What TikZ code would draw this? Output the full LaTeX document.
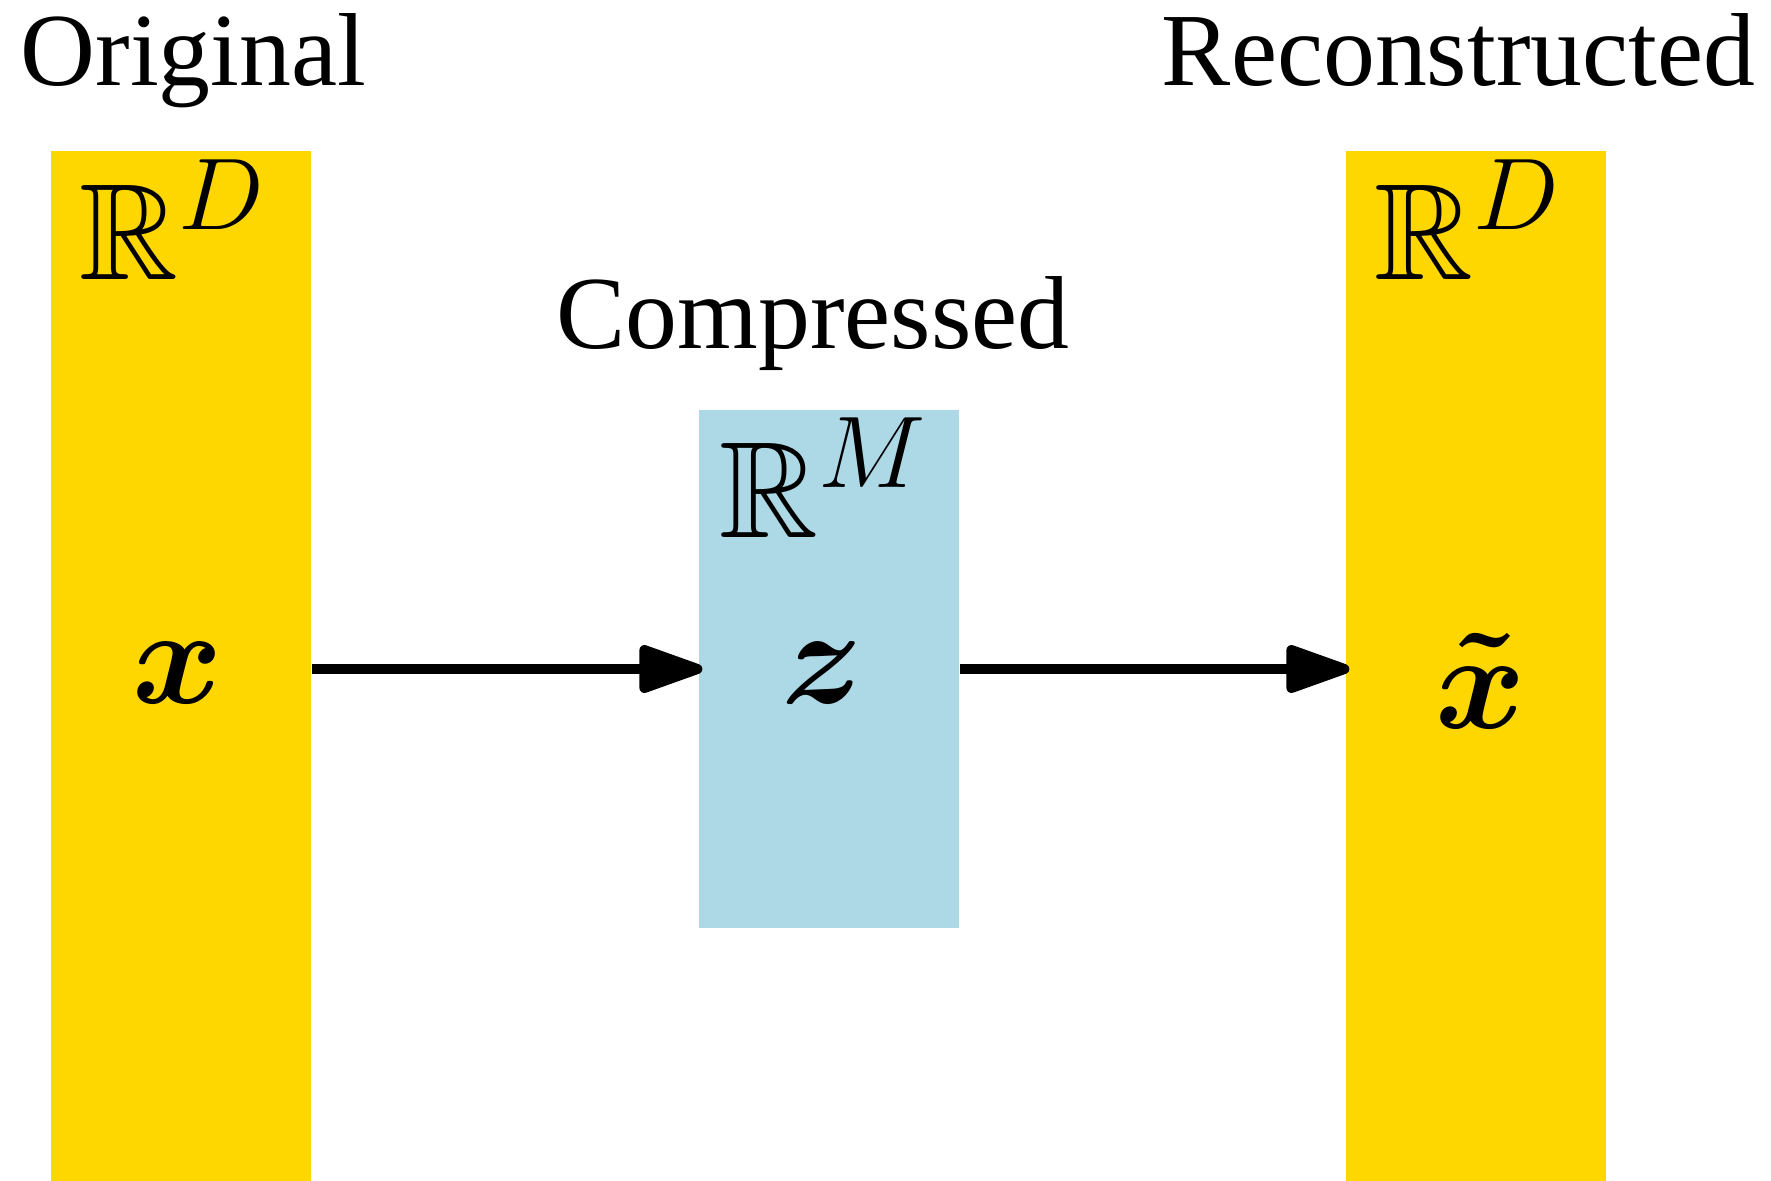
\RequirePackage{fix-cm}
\documentclass[tikz,border=0pt]{standalone}
\usepackage{amsmath,amssymb}
\usepackage{fontspec}
\setmainfont{Liberation Serif}
\usetikzlibrary{arrows.meta}
\DeclareMathSizes{39}{39}{29}{22}
\definecolor{bargold}{HTML}{FFD700}
\definecolor{boxblue}{HTML}{ADD8E6}
\tikzset{
  bar/.style={fill=bargold, draw=none, minimum width=2.6cm, minimum height=10.3cm, inner sep=0pt},
  cbox/.style={fill=boxblue, draw=none, minimum width=2.6cm, minimum height=5.18cm, inner sep=0pt},
  title/.style={inner sep=0pt, font=\fontsize{29.5}{33}\selectfont},
  mathlbl/.style={inner sep=0pt, font=\fontsize{39}{43}\selectfont},
  flow/.style={line width=2.85pt, shorten >=-1.2pt, -{Triangle[length=21pt, width=14pt, round]}}
}
\begin{document}
\begin{tikzpicture}[x=0.01cm, y=-0.01cm]
\useasboundingbox (0,0) rectangle (1771,1181);
% bars
\node[bar] (lbar) at (181,666) {};
\node[bar] (rbar) at (1476,666) {};
\node[cbox] (mid) at (829,669) {};
% titles
\node[title, anchor=base west] (torig) at (20,85) {Original};
\node[title, anchor=base east] (trec) at (1756,85) {Reconstructed};
\node[title, anchor=base west] (tcomp) at (556,348) {Compressed};
% spaces
\node[mathlbl, anchor=base west] (rd1) at (79,279) {$\mathbb{R}^D$};
\node[mathlbl, anchor=base west] (rm) at (719,537) {$\mathbb{R}^M$};
\node[mathlbl, anchor=base west] (rd2) at (1374,279) {$\mathbb{R}^D$};
% variables
\node[mathlbl, anchor=base] (xv) at (178,703) {$\boldsymbol{x}$};
\node[mathlbl, anchor=base] (zv) at (822,703) {$\boldsymbol{z}$};
\node[mathlbl, anchor=base] (xt) at (1481,728) {$\boldsymbol{\tilde{x}}$};
% arrows
\draw[flow] (lbar.east |- mid.west) -- (mid.west);
\draw[flow] (mid.east) -- (rbar.west |- mid.east);
\end{tikzpicture}
\end{document}
